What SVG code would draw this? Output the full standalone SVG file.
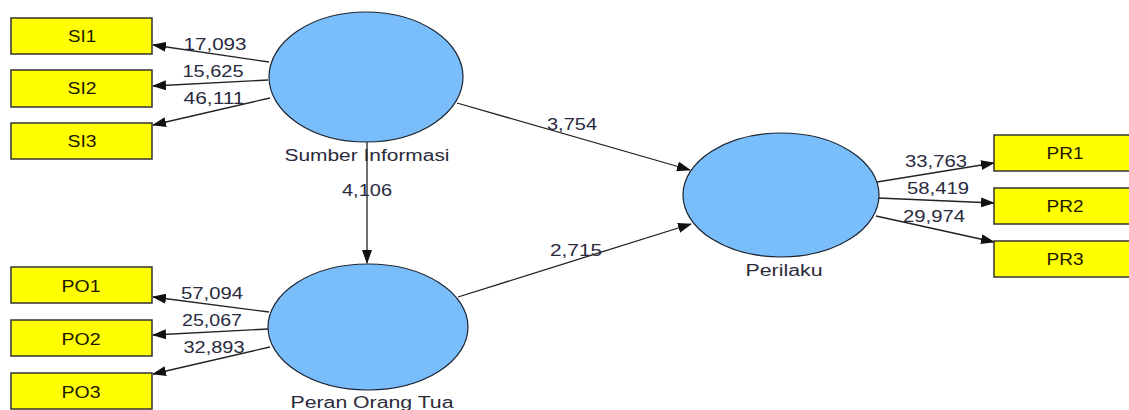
<svg xmlns="http://www.w3.org/2000/svg" width="1129" height="410" viewBox="0 0 1129 410">
<style>
.box{fill:#ffff00;stroke:#333333;stroke-width:1.5}
.lv{fill:#79bdfa;stroke:#1c2430;stroke-width:1.2}
.bt{font-family:"Liberation Sans",Arial,sans-serif;font-size:16px;fill:#1e1800;text-anchor:middle}
.lt{font-family:"Liberation Sans",Arial,sans-serif;font-size:16px;fill:#2a2a3a;text-anchor:middle}
.nt{font-family:"Liberation Sans",Arial,sans-serif;font-size:16px;fill:#2a2a40;text-anchor:middle}
.ln{stroke:#222222;stroke-width:1.3;fill:none;marker-end:url(#ah)}
</style>
<defs>
<marker id="ah" markerUnits="userSpaceOnUse" markerWidth="14" markerHeight="10" refX="13" refY="5" orient="auto">
<path d="M0,0 L14,5 L0,10 Z" fill="#111111"/>
</marker>
</defs>
<rect width="1129" height="410" fill="#ffffff"/>
<g id="connectors">
<line class="ln" x1="269" y1="62" x2="153" y2="45"/>
<line class="ln" x1="268" y1="80" x2="153" y2="86"/>
<line class="ln" x1="270" y1="98" x2="153" y2="125"/>
<line class="ln" x1="269" y1="312" x2="153" y2="297"/>
<line class="ln" x1="268" y1="329" x2="153" y2="335"/>
<line class="ln" x1="270" y1="347" x2="153" y2="374"/>
<line class="ln" x1="877" y1="182" x2="994" y2="163"/>
<line class="ln" x1="878" y1="198" x2="994" y2="203"/>
<line class="ln" x1="876" y1="216" x2="994" y2="242"/>
<line class="ln" x1="457" y1="103" x2="690" y2="170"/>
<line class="ln" x1="458" y1="297" x2="691" y2="224"/>
<line class="ln" x1="367" y1="142" x2="367" y2="263"/>
<text class="nt" x="215" y="50" textLength="63" lengthAdjust="spacingAndGlyphs">17,093</text>
<text class="nt" x="213" y="77" textLength="61" lengthAdjust="spacingAndGlyphs">15,625</text>
<text class="nt" x="214" y="104" textLength="61" lengthAdjust="spacingAndGlyphs">46,111</text>
<text class="nt" x="212" y="299" textLength="62" lengthAdjust="spacingAndGlyphs">57,094</text>
<text class="nt" x="212" y="326" textLength="60" lengthAdjust="spacingAndGlyphs">25,067</text>
<text class="nt" x="214" y="353" textLength="61" lengthAdjust="spacingAndGlyphs">32,893</text>
<text class="nt" x="936" y="167" textLength="62" lengthAdjust="spacingAndGlyphs">33,763</text>
<text class="nt" x="938" y="194" textLength="62" lengthAdjust="spacingAndGlyphs">58,419</text>
<text class="nt" x="934" y="222" textLength="62" lengthAdjust="spacingAndGlyphs">29,974</text>
<text class="nt" x="572" y="130" textLength="50" lengthAdjust="spacingAndGlyphs">3,754</text>
<text class="nt" x="576" y="256" textLength="52" lengthAdjust="spacingAndGlyphs">2,715</text>
<text class="nt" x="367" y="196" textLength="50" lengthAdjust="spacingAndGlyphs">4,106</text>
</g>
<g id="SI1"><rect class="box" x="11" y="18" width="141" height="36"/><text class="bt" x="82" y="42" textLength="28" lengthAdjust="spacingAndGlyphs">SI1</text></g>
<g id="SI2"><rect class="box" x="11" y="70" width="141" height="37"/><text class="bt" x="82" y="94" textLength="29" lengthAdjust="spacingAndGlyphs">SI2</text></g>
<g id="SI3"><rect class="box" x="11" y="123" width="141" height="36"/><text class="bt" x="82" y="147" textLength="29" lengthAdjust="spacingAndGlyphs">SI3</text></g>
<g id="PO1"><rect class="box" x="11" y="267" width="141" height="36"/><text class="bt" x="81" y="292" textLength="39" lengthAdjust="spacingAndGlyphs">PO1</text></g>
<g id="PO2"><rect class="box" x="11" y="320" width="141" height="36"/><text class="bt" x="81" y="345" textLength="39" lengthAdjust="spacingAndGlyphs">PO2</text></g>
<g id="PO3"><rect class="box" x="11" y="373" width="141" height="36"/><text class="bt" x="81" y="398" textLength="39" lengthAdjust="spacingAndGlyphs">PO3</text></g>
<g id="PR1"><rect class="box" x="994" y="135" width="141" height="36"/><text class="bt" x="1065" y="159" textLength="37" lengthAdjust="spacingAndGlyphs">PR1</text></g>
<g id="PR2"><rect class="box" x="994" y="188" width="141" height="36"/><text class="bt" x="1065" y="212" textLength="37" lengthAdjust="spacingAndGlyphs">PR2</text></g>
<g id="PR3"><rect class="box" x="994" y="241" width="141" height="36"/><text class="bt" x="1065" y="265" textLength="37" lengthAdjust="spacingAndGlyphs">PR3</text></g>
<g id="SumberInformasi"><ellipse class="lv" cx="366" cy="77" rx="97" ry="65"/><text class="lt" x="367" y="161" textLength="165" lengthAdjust="spacingAndGlyphs">Sumber Informasi</text></g>
<g id="PeranOrangTua"><ellipse class="lv" cx="368" cy="327" rx="100" ry="63"/><text class="lt" x="372" y="408" textLength="163" lengthAdjust="spacingAndGlyphs">Peran Orang Tua</text></g>
<g id="Perilaku"><ellipse class="lv" cx="781" cy="195" rx="98" ry="62"/><text class="lt" x="784" y="276" textLength="77" lengthAdjust="spacingAndGlyphs">Perilaku</text></g>
</svg>
